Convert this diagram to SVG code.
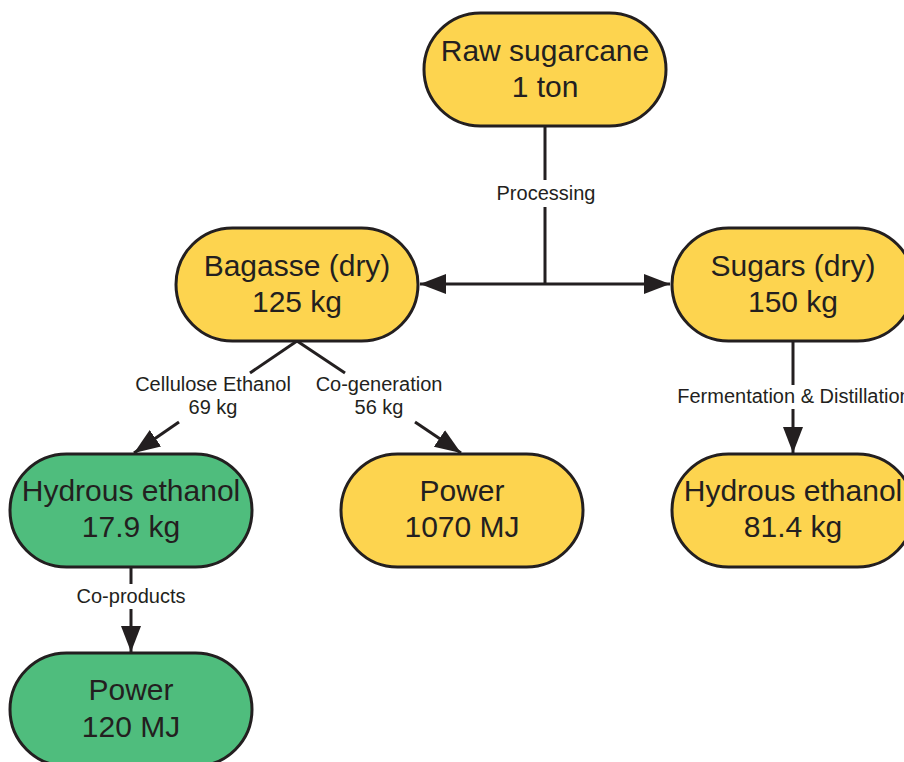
<svg xmlns="http://www.w3.org/2000/svg" width="904" height="762" viewBox="0 0 904 762">
<style>
.node rect{stroke:#231F20;stroke-width:3}
.y rect{fill:#FDD44F}
.g rect{fill:#4FBD7D}
.nt{font-family:"Liberation Sans",Arial,sans-serif;font-size:30px;fill:#231F20;text-anchor:middle}
.lt{font-family:"Liberation Sans",Arial,sans-serif;font-size:20px;fill:#231F20;text-anchor:middle}
.edge{fill:none;stroke:#231F20;stroke-width:3}
</style>
<defs>
<marker id="ah" markerUnits="userSpaceOnUse" markerWidth="28" markerHeight="22" refX="26" refY="10" orient="auto-start-reverse" viewBox="0 0 28 20">
<path d="M0,0 L26,10 L0,20 Z" fill="#231F20"/>
</marker>
</defs>
<g id="connectors">
<path class="edge" d="M545,126 V180 M545,207 V284"/>
<path class="edge" d="M545,284 H420" marker-end="url(#ah)"/>
<path class="edge" d="M545,284 H670" marker-end="url(#ah)"/>
<text class="lt" x="546" y="200">Processing</text>
<path class="edge" d="M297,341 L250,373"/>
<path class="edge" d="M179,422 L134,453" marker-end="url(#ah)"/>
<text class="lt" x="213" y="391">Cellulose Ethanol</text>
<text class="lt" x="213" y="414">69 kg</text>
<path class="edge" d="M297,341 L345,373"/>
<path class="edge" d="M415,422 L461,453" marker-end="url(#ah)"/>
<text class="lt" x="379" y="391">Co-generation</text>
<text class="lt" x="379" y="414">56 kg</text>
<path class="edge" d="M793,341 V385"/>
<path class="edge" d="M793,409 V453" marker-end="url(#ah)"/>
<text class="lt" x="794" y="403">Fermentation &amp; Distillation</text>
<path class="edge" d="M131,567 V584"/>
<path class="edge" d="M131,609 V652" marker-end="url(#ah)"/>
<text class="lt" x="131" y="603">Co-products</text>
</g>
<g id="raw" class="node y"><rect x="424" y="13" width="242" height="113" rx="56.5"/><text class="nt" x="545" y="61">Raw sugarcane</text><text class="nt" x="545" y="97">1 ton</text></g>
<g id="bagasse" class="node y"><rect x="176" y="228" width="242" height="113" rx="56.5"/><text class="nt" x="297" y="276">Bagasse (dry)</text><text class="nt" x="297" y="312">125 kg</text></g>
<g id="sugars" class="node y"><rect x="672" y="228" width="242" height="113" rx="56.5"/><text class="nt" x="793" y="276">Sugars (dry)</text><text class="nt" x="793" y="312">150 kg</text></g>
<g id="ethanol-cell" class="node g"><rect x="10" y="454" width="242" height="113" rx="56.5"/><text class="nt" x="131" y="501">Hydrous ethanol</text><text class="nt" x="131" y="537">17.9 kg</text></g>
<g id="power-cogen" class="node y"><rect x="341" y="454" width="242" height="113" rx="56.5"/><text class="nt" x="462" y="501">Power</text><text class="nt" x="462" y="537">1070 MJ</text></g>
<g id="ethanol-ferm" class="node y"><rect x="672" y="454" width="242" height="113" rx="56.5"/><text class="nt" x="793" y="501">Hydrous ethanol</text><text class="nt" x="793" y="537">81.4 kg</text></g>
<g id="power-coprod" class="node g"><rect x="10" y="653" width="242" height="113" rx="56.5"/><text class="nt" x="131" y="700">Power</text><text class="nt" x="131" y="737">120 MJ</text></g>
</svg>
